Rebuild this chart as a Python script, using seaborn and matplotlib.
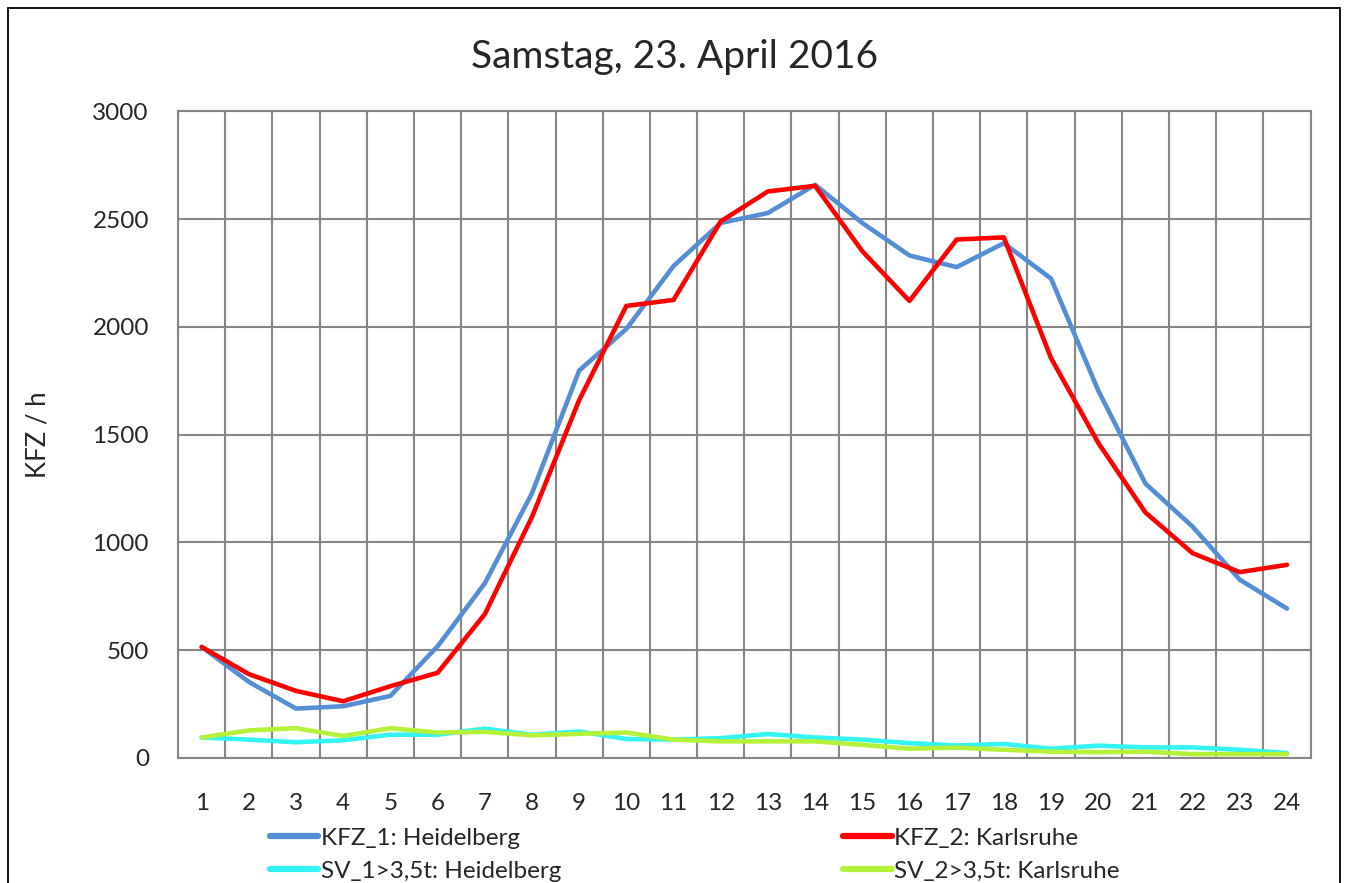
import numpy as np
import pandas as pd
import matplotlib
matplotlib.use("Agg")
import matplotlib.pyplot as plt
import seaborn as sns

# hourly traffic counts, Saturday 23 April 2016
hours = list(range(1, 25))
kfz_1 = [515, 353, 229, 240, 288, 518, 810, 1228, 1797, 1990, 2282, 2482,
         2528, 2659, 2482, 2331, 2277, 2388, 2224, 1705, 1273, 1073, 827, 693]
kfz_2 = [515, 389, 311, 263, 333, 395, 667, 1118, 1660, 2097, 2125, 2489,
         2628, 2654, 2351, 2120, 2405, 2415, 1855, 1462, 1139, 950, 862, 896]
sv_1 = [95, 85, 73, 82, 108, 108, 136, 108, 123, 88, 85, 92,
        111, 95, 85, 69, 58, 65, 43, 57, 49, 49, 38, 23]
sv_2 = [95, 128, 138, 102, 138, 118, 121, 105, 112, 118, 85, 77,
        77, 77, 61, 43, 48, 38, 29, 27, 29, 18, 18, 18]

names = ["KFZ_1: Heidelberg", "KFZ_2: Karlsruhe",
         "SV_1>3,5t: Heidelberg", "SV_2>3,5t: Karlsruhe"]
colors = ["#558ED5", "#FF0000", "#33F3F3", "#B5F03A"]

df = pd.concat([
    pd.DataFrame({"Stunde": hours, "KFZ": vals, "Serie": name})
    for name, vals in zip(names, [kfz_1, kfz_2, sv_1, sv_2])
])

sns.set_style("white")
plt.rcParams["font.family"] = ["Lato", "DejaVu Sans"]

fig = plt.figure(figsize=(13.49, 8.83), dpi=100)
ax = fig.add_axes([0.132, 0.1416, 0.8395, 0.7324])

sns.lineplot(data=df, x="Stunde", y="KFZ", hue="Serie", hue_order=names,
             palette=dict(zip(names, colors)), linewidth=3.3, ax=ax,
             legend=False, zorder=3)

ax.set_xlim(0.5, 24.5)
ax.set_ylim(0, 3000)
ax.set_xticks(hours)
ax.set_xticks(np.arange(0.5, 25, 1), minor=True)
ax.set_yticks(range(0, 3001, 500))
ax.tick_params(axis="x", which="major", length=0, labelsize=17.5, pad=25)
ax.tick_params(axis="x", which="minor", length=8, width=1.5, color="#868686",
               direction="out")
ax.tick_params(axis="y", which="major", length=7, width=1.5, color="#868686",
               labelsize=17.5, pad=14, direction="out")
ax.grid(True, which="minor", axis="x", color="#868686", linewidth=1.5)
ax.grid(True, which="major", axis="y", color="#868686", linewidth=1.5)
for sp in ax.spines.values():
    sp.set_color("#868686")
    sp.set_linewidth(1.5)
ax.set_xlabel("")
ax.set_ylabel("KFZ / h", fontsize=18.5)
ax.yaxis.set_label_coords(-0.113, 0.5)

fig.suptitle("Samstag, 23. April 2016", fontsize=28, y=0.935, va="center")

# legend, column-wise: col 1 Heidelberg, col 2 Karlsruhe
handles = [plt.Line2D([], [], color=c, linewidth=4.5) for c in colors]
order = [0, 2, 1, 3]
fig.legend([handles[i] for i in order], [names[i] for i in order],
           loc="upper left", bbox_to_anchor=(0.2, 0.0625), ncol=2,
           frameon=False, fontsize=17.5, handlelength=2.0, handletextpad=0.1,
           columnspacing=11.6, labelspacing=0.5, borderpad=0,
           borderaxespad=0)

fig.add_artist(plt.Rectangle((0.006, -0.1), 0.9874, 1.091,
                             transform=fig.transFigure, fill=False,
                             edgecolor="black", linewidth=1.3))

plt.savefig("out.png", dpi=100)
